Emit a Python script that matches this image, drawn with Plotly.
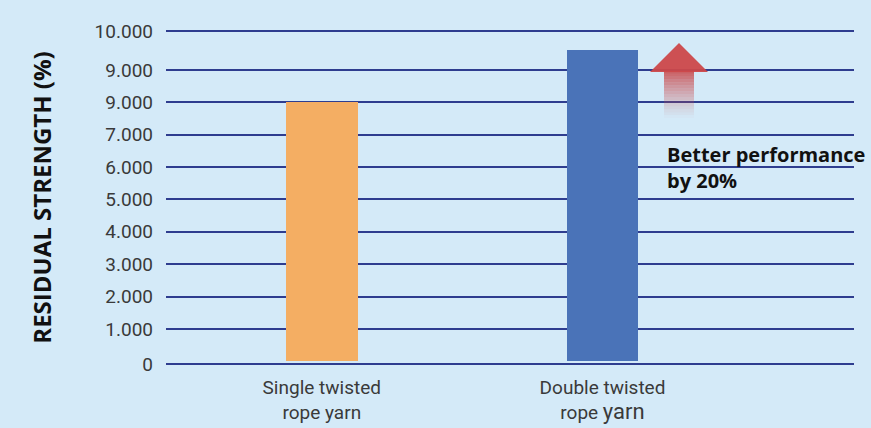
import plotly.graph_objects as go

# ---- data ----
categories = ["Single twisted<br>rope yarn",
              "Double twisted<br>rope <span style='font-size:22px'>yarn</span>"]
residual_strength = [8000, 9600]
bar_colors = ["#F4AE63", "#4A73B8"]

y_tick_vals = [-80, 1000, 2000, 3000, 4000, 5000, 6000, 7000, 8000, 9000, 10200]
y_tick_text = ["0", "1.000", "2.000", "3.000", "4.000", "5.000", "6.000",
               "7.000", "9.000", "9.000", "10.000"]

annotation_text = "Better performance<br>by 20%"

BG = "#D4EAF8"
GRID = "#2E3D8F"

fig = go.Figure()
fig.add_trace(go.Bar(
    x=[0, 1], y=residual_strength,
    marker=dict(color=bar_colors, line=dict(width=0)),
    width=0.255,
    hoverinfo="skip",
))

fig.update_xaxes(
    range=[-0.555, 1.896],
    tickvals=[0, 1], ticktext=categories,
    tickfont=dict(family="Roboto", size=19, color="#3A3A3A"),
    showgrid=False, zeroline=False, showline=False, ticks="",
    ticklabelstandoff=8, automargin=False,
)
fig.update_yaxes(
    range=[-142, 10262],
    tickvals=y_tick_vals, ticktext=y_tick_text,
    tickfont=dict(family="Roboto", size=19, color="#3A3A3A"),
    showgrid=True, gridcolor=GRID, gridwidth=1.5,
    zeroline=False, showline=False, ticks="",
    ticklabelstandoff=12, automargin=False,
    title=dict(text="<b>RESIDUAL STRENGTH (%)</b>",
               font=dict(family="Open Sans", size=24, color="#111111"),
               standoff=36),
)

# decorative arrow (paper coordinates)
W, H = 871, 428
L, R, T, B = 166, 17, 29, 62
pw, ph = W - L - R, H - T - B
def px(x):
    return (x - L) / pw
def py(y):
    return 1 - (y - T) / ph

shapes = []
n = 16
top, bot = 71, 118
for i in range(n):
    y0 = top + (bot - top) * i / n
    y1 = top + (bot - top) * (i + 1) / n
    a = 0.85 * (1 - i / n) ** 1.3
    shapes.append(dict(type="rect", xref="paper", yref="paper",
                       x0=px(664), x1=px(694), y0=py(y1), y1=py(y0),
                       fillcolor=f"rgba(201,72,74,{a:.3f})", line=dict(width=0), layer="above"))
shapes.append(dict(type="path", xref="paper", yref="paper",
                   path=f"M {px(650)} {py(72)} L {px(679)} {py(43)} L {px(708)} {py(72)} Z",
                   fillcolor="rgba(204,72,74,0.95)", line=dict(width=0), layer="above"))

fig.update_layout(
    width=W, height=H,
    margin=dict(l=L, r=R, t=T, b=B),
    paper_bgcolor=BG, plot_bgcolor=BG,
    showlegend=False,
    bargap=0,
    shapes=shapes,
    annotations=[dict(
        text=f"<b>{annotation_text}</b>", xref="paper", yref="paper",
        x=px(665), y=py(139), xanchor="left", yanchor="top", align="left",
        showarrow=False,
        font=dict(family="Open Sans", size=20, color="#111111"),
    )],
)

fig.write_html("out.html", config={"displayModeBar": False},
               post_script="document.body.style.margin='0';document.body.style.background='#D4EAF8';")
